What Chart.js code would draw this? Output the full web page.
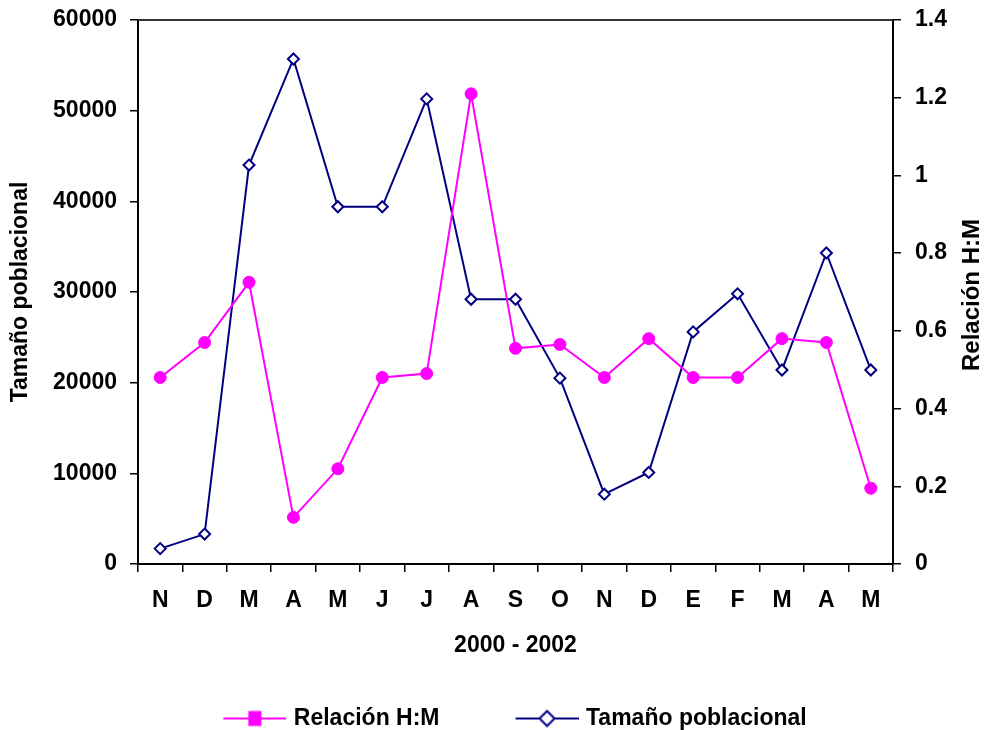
<!DOCTYPE html>
<html>
<head>
<meta charset="utf-8">
<script src="https://cdn.jsdelivr.net/npm/chart.js@4/dist/chart.umd.min.js"></script>
<style>
  html, body { margin: 0; padding: 0; background: #ffffff; }
  #wrap { width: 984px; height: 730px; }
</style>
</head>
<body>
<div id="wrap"><canvas id="c" width="984" height="730"></canvas></div>
<script>
// Monthly samples, Nov 2000 - May 2002
const months = ['N', 'D', 'M', 'A', 'M', 'J', 'J', 'A', 'S', 'O', 'N', 'D', 'E', 'F', 'M', 'A', 'M'];

// Sex ratio (right axis)
const relacionHM = [0.48, 0.57, 0.725, 0.12, 0.245, 0.48, 0.49, 1.21, 0.555, 0.565, 0.48, 0.58, 0.48, 0.48, 0.58, 0.57, 0.195];

// Population size (left axis)
const tamanoPoblacional = [1700, 3300, 44000, 55700, 39400, 39400, 51300, 29200, 29200, 20500, 7700, 10100, 25600, 29800, 21400, 34300, 21400];

const leftTicks = [0, 10000, 20000, 30000, 40000, 50000, 60000];
const rightTicks = [0, 0.2, 0.4, 0.6, 0.8, 1, 1.2, 1.4];

const seriesNames = ['Relación H:M', 'Tamaño poblacional'];
const xTitle = '2000 - 2002';
const leftTitle = 'Tamaño poblacional';
const rightTitle = 'Relación H:M';

const FONT = "'Liberation Sans', Arial, Helvetica, sans-serif";
const MAGENTA = '#FF00FF';
const NAVY = '#000080';
const boldFont = { family: FONT, size: 23, weight: 'bold' };

// Legend swatch: a short line with the series marker in the middle
const LEGEND_BOX = 133;
function swatch(kind) {
  const w = LEGEND_BOX + 8, h = 20;
  const cv = document.createElement('canvas');
  cv.width = w; cv.height = h;
  const g = cv.getContext('2d');
  const x1 = w - 63, x2 = w, cy = h / 2, mx = (x1 + x2) / 2;
  g.lineWidth = 2;
  g.strokeStyle = kind === 'rel' ? MAGENTA : NAVY;
  g.beginPath(); g.moveTo(x1, cy); g.lineTo(x2, cy); g.stroke();
  if (kind === 'rel') {
    g.fillStyle = MAGENTA;
    g.fillRect(mx - 6.5, cy - 7.5, 13, 15);
  } else {
    g.fillStyle = '#ffffff';
    g.beginPath();
    g.moveTo(mx - 7.5, cy); g.lineTo(mx, cy - 7.5);
    g.lineTo(mx + 7.5, cy); g.lineTo(mx, cy + 7.5);
    g.closePath(); g.fill(); g.stroke();
  }
  return cv;
}
const legendImages = [swatch('rel'), swatch('tam')];

// Top edge of the plot frame
const frameTop = {
  id: 'frameTop',
  beforeDatasetsDraw(chart) {
    const { ctx, chartArea: a } = chart;
    ctx.save();
    ctx.strokeStyle = '#333333';
    ctx.lineWidth = 2;
    ctx.beginPath();
    ctx.moveTo(a.left, a.top);
    ctx.lineTo(a.right, a.top);
    ctx.stroke();
    ctx.restore();
  }
};

// Right axis title, reading bottom to top
const rightAxisTitle = {
  id: 'rightAxisTitle',
  afterDraw(chart) {
    const { ctx, chartArea: a } = chart;
    ctx.save();
    ctx.font = 'bold 24px ' + FONT;
    ctx.fillStyle = '#000000';
    ctx.textAlign = 'center';
    ctx.textBaseline = 'middle';
    ctx.translate(972, (a.top + a.bottom) / 2 + 3);
    ctx.rotate(-Math.PI / 2);
    ctx.fillText(rightTitle, 0, 0);
    ctx.restore();
  }
};

const axisGrid = { drawOnChartArea: false, drawTicks: true, tickLength: 8, color: '#000000', lineWidth: 1.5 };
const axisBorder = { display: true, color: '#000000', width: 2 };

function fixVertical(width) {
  return function (s) {
    s.width = width;
    s.paddingTop = 0;
    s.paddingBottom = 0;
  };
}

new Chart(document.getElementById('c'), {
  type: 'line',
  data: {
    labels: months,
    datasets: [
      {
        label: seriesNames[0],
        data: relacionHM,
        yAxisID: 'y1',
        borderColor: MAGENTA,
        borderWidth: 2,
        backgroundColor: MAGENTA,
        pointStyle: 'circle',
        pointRadius: 6,
        pointBorderWidth: 1,
        pointBackgroundColor: MAGENTA,
        pointBorderColor: MAGENTA,
        tension: 0,
        fill: false
      },
      {
        label: seriesNames[1],
        data: tamanoPoblacional,
        yAxisID: 'y',
        borderColor: NAVY,
        borderWidth: 2,
        backgroundColor: '#ffffff',
        pointStyle: 'rectRot',
        pointRadius: 5.5,
        pointBorderWidth: 2,
        pointBackgroundColor: '#ffffff',
        pointBorderColor: NAVY,
        tension: 0,
        fill: false
      }
    ]
  },
  options: {
    responsive: false,
    animation: false,
    layout: { padding: { top: 20, right: 28, bottom: -10, left: 0 } },
    plugins: {
      tooltip: { enabled: false },
      legend: {
        position: 'bottom',
        align: 'center',
        labels: {
          usePointStyle: true,
          pointStyleWidth: LEGEND_BOX,
          padding: 2,
          color: '#000000',
          font: boldFont,
          generateLabels(chart) {
            const items = Chart.defaults.plugins.legend.labels.generateLabels(chart);
            items.forEach((it, i) => { it.pointStyle = legendImages[i]; });
            return items;
          }
        }
      }
    },
    scales: {
      x: {
        type: 'category',
        offset: true,
        grid: Object.assign({ offset: true }, axisGrid),
        border: axisBorder,
        ticks: { color: '#000000', font: boldFont, padding: 15, autoSkip: false, maxRotation: 0 },
        title: { display: true, text: xTitle, color: '#000000', font: boldFont, padding: { top: 0, bottom: 46 } },
        afterFit(s) { s.height = 141; s.paddingLeft = 0; s.paddingRight = 0; }
      },
      y: {
        position: 'left',
        min: 0,
        max: 60000,
        afterBuildTicks(s) { s.ticks = leftTicks.map(v => ({ value: v })); },
        grid: axisGrid,
        border: axisBorder,
        ticks: { color: '#000000', font: boldFont, padding: 13, callback: v => String(v) },
        title: { display: true, text: leftTitle, color: '#000000', font: boldFont, padding: { top: 7, bottom: 0 } },
        afterFit: fixVertical(138)
      },
      y1: {
        position: 'right',
        min: 0,
        max: 1.4,
        afterBuildTicks(s) { s.ticks = rightTicks.map(v => ({ value: v })); },
        grid: axisGrid,
        border: axisBorder,
        ticks: { color: '#000000', font: boldFont, padding: 14, callback: v => String(Number(Number(v).toFixed(2))) },
        afterFit: fixVertical(63)
      }
    }
  },
  plugins: [frameTop, rightAxisTitle]
});
</script>
</body>
</html>
